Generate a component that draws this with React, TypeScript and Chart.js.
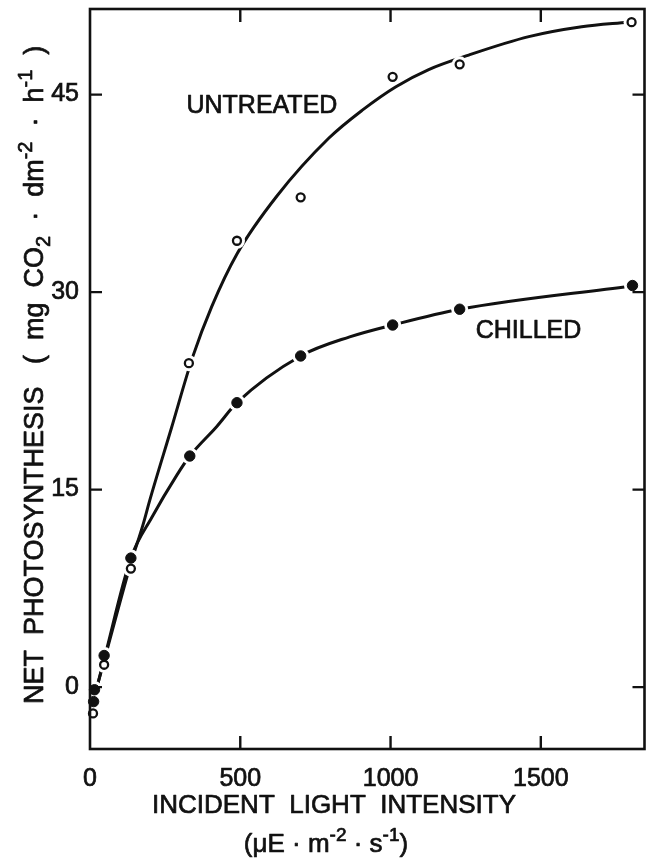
import React, { useEffect, useRef } from "react";
import { Chart, registerables } from "chart.js";

Chart.register(...registerables);

// ---- data ----
const untreatedX = [10, 47, 136, 329, 489, 701, 1007, 1230, 1802];
const untreatedY = [-2.0, 1.7, 9.0, 24.6, 33.9, 37.2, 46.35, 47.3, 50.5];

const chilledX = [12, 15, 47, 136, 332, 489, 701, 1007, 1230, 1805];
const chilledY = [-1.1, -0.2, 2.4, 9.8, 17.55, 21.6, 25.15, 27.5, 28.7, 30.5];

// hand-drawn fitted curves, read along their length from the reference
const untreatedCurveX = [23, 47, 136, 176, 199, 270, 342, 405, 489, 622, 795, 905, 1018, 1127, 1260, 1460, 1636, 1790];
const untreatedCurveY = [0, 2.0, 9.4, 12.3, 14.2, 19.6, 25.1, 28.9, 32.9, 37.3, 41.7, 43.8, 45.6, 46.9, 48.0, 49.4, 50.15, 50.5];

const chilledCurveX = [23, 47, 136, 206, 289, 332, 422, 489, 701, 864, 1007, 1230, 1795];
const chilledCurveY = [0, 2.1, 9.8, 12.9, 16.1, 17.55, 19.8, 21.6, 25.15, 26.6, 27.5, 28.7, 30.45];

const xTicks = [0, 500, 1000, 1500];
const yTicks = [0, 15, 30, 45];

const X_MIN = 0;
const X_MAX = 1845;
const Y_MIN = -4.7;
const Y_MAX = 51.5;

const INK = "#111111";
const FAMILY = "'Liberation Sans', Arial, Helvetica, sans-serif";

type Seg = { t: string; k?: "sup" | "sub" };

const yTitle: Seg[] = [
  { t: "NET  PHOTOSYNTHESIS   (  mg  CO" },
  { t: "2", k: "sub" },
  { t: "  ·  dm" },
  { t: "-2", k: "sup" },
  { t: "  ·  h" },
  { t: "-1", k: "sup" },
  { t: "  )" },
];
const xTitle1: Seg[] = [{ t: "INCIDENT  LIGHT  INTENSITY" }];
const xTitle2: Seg[] = [
  { t: "(μE · m" },
  { t: "-2", k: "sup" },
  { t: " · s" },
  { t: "-1", k: "sup" },
  { t: ")" },
];

const pts = (xs: number[], ys: number[]) => xs.map((x, i) => ({ x, y: ys[i] }));

function segFont(size: number, k?: string) {
  const s = k ? Math.round(size * 0.74) : size;
  return `${s}px ${FAMILY}`;
}

function measureRich(ctx: CanvasRenderingContext2D, segs: Seg[], size: number) {
  let w = 0;
  for (const s of segs) {
    ctx.font = segFont(size, s.k);
    w += ctx.measureText(s.t).width;
  }
  return w;
}

function drawRich(ctx: CanvasRenderingContext2D, segs: Seg[], size: number, x0: number, y0: number) {
  let x = x0;
  ctx.textBaseline = "alphabetic";
  ctx.textAlign = "left";
  for (const s of segs) {
    ctx.font = segFont(size, s.k);
    const dy = s.k === "sup" ? -size * 0.42 : s.k === "sub" ? size * 0.25 : 0;
    ctx.fillText(s.t, x, y0 + dy);
    ctx.strokeText(s.t, x, y0 + dy);
    x += ctx.measureText(s.t).width;
  }
}

const framePlugin = {
  id: "frameAndText",
  afterDatasetsDraw(chart: any) {
    const { ctx, chartArea } = chart;
    const { left, right, top, bottom } = chartArea;
    const xs = chart.scales.x;
    const ys = chart.scales.y;
    ctx.save();
    ctx.strokeStyle = INK;
    ctx.fillStyle = INK;
    ctx.lineWidth = 2.6;
    ctx.strokeRect(left, top, right - left, bottom - top);

    const TICK = 13;
    ctx.lineWidth = 2.4;
    ctx.beginPath();
    for (const v of xTicks) {
      if (v === X_MIN) continue;
      const px = xs.getPixelForValue(v);
      ctx.moveTo(px, bottom);
      ctx.lineTo(px, bottom - TICK);
      ctx.moveTo(px, top);
      ctx.lineTo(px, top + TICK);
    }
    for (const v of yTicks) {
      const py = ys.getPixelForValue(v);
      ctx.moveTo(left, py);
      ctx.lineTo(left + 12, py);
      ctx.moveTo(right, py);
      ctx.lineTo(right - 12, py);
    }
    ctx.stroke();

    ctx.lineWidth = 0.7;
    ctx.lineJoin = "round";

    // series labels
    ctx.font = `25px ${FAMILY}`;
    ctx.textAlign = "center";
    ctx.textBaseline = "middle";
    const ux = xs.getPixelForValue(572);
    const uy = ys.getPixelForValue(44.1);
    ctx.fillText("UNTREATED", ux, uy);
    ctx.strokeText("UNTREATED", ux, uy);
    const cx = xs.getPixelForValue(1459);
    const cy = ys.getPixelForValue(27.05);
    ctx.fillText("CHILLED", cx, cy);
    ctx.strokeText("CHILLED", cx, cy);

    // axis titles
    const TS = 26;
    const w1 = measureRich(ctx, xTitle1, TS);
    drawRich(ctx, xTitle1, TS, 334 - w1 / 2, 813);
    const w2 = measureRich(ctx, xTitle2, TS);
    drawRich(ctx, xTitle2, TS, 326 - w2 / 2, 852);

    ctx.save();
    ctx.translate(43, 704);
    ctx.rotate(-Math.PI / 2);
    drawRich(ctx, yTitle, 27, 0, 0);
    ctx.restore();

    ctx.restore();
  },
};

export default function App() {
  const ref = useRef<HTMLCanvasElement | null>(null);

  useEffect(() => {
    if (!ref.current) return;
    const chart = new Chart(ref.current, {
      type: "scatter",
      data: {
        datasets: [
          {
            label: "Untreated curve",
            data: pts(untreatedCurveX, untreatedCurveY),
            showLine: true,
            borderColor: INK,
            borderWidth: 3,
            pointRadius: 0,
            cubicInterpolationMode: "monotone",
            order: 3,
          } as any,
          {
            label: "Chilled curve",
            data: pts(chilledCurveX, chilledCurveY),
            showLine: true,
            borderColor: INK,
            borderWidth: 3,
            pointRadius: 0,
            cubicInterpolationMode: "monotone",
            order: 3,
          } as any,
          {
            label: "Untreated gap",
            data: pts(untreatedX, untreatedY),
            pointRadius: 8,
            backgroundColor: "#ffffff",
            borderWidth: 0,
            order: 2,
            clip: false,
          } as any,
          {
            label: "Chilled gap",
            data: pts(chilledX, chilledY),
            pointRadius: 8.5,
            backgroundColor: "#ffffff",
            borderWidth: 0,
            order: 2,
            clip: false,
          } as any,
          {
            label: "UNTREATED",
            data: pts(untreatedX, untreatedY),
            pointRadius: 4,
            backgroundColor: "#ffffff",
            borderColor: INK,
            borderWidth: 2.3,
            order: 1,
            clip: false,
          } as any,
          {
            label: "CHILLED",
            data: pts(chilledX, chilledY),
            pointRadius: 5.2,
            backgroundColor: INK,
            borderColor: INK,
            borderWidth: 1,
            order: 0,
            clip: false,
          } as any,
        ],
      },
      options: {
        animation: false,
        responsive: false,
        events: [],
        layout: { padding: { top: 9, right: 6, left: 0, bottom: 0 } },
        plugins: { legend: { display: false }, tooltip: { enabled: false } },
        scales: {
          x: {
            type: "linear",
            min: X_MIN,
            max: X_MAX,
            afterBuildTicks: (s: any) => {
              s.ticks = xTicks.map((v) => ({ value: v }));
            },
            afterFit: (s: any) => {
              s.height = 111;
              s.paddingLeft = 0;
              s.paddingRight = 0;
              s.paddingTop = 0;
              s.paddingBottom = 0;
            },
            grid: { display: false, drawTicks: false },
            border: { display: false },
            ticks: {
              padding: 15,
              color: INK,
              textStrokeColor: INK,
              textStrokeWidth: 0.7,
              font: { family: FAMILY, size: 25 },
              maxRotation: 0,
              autoSkip: false,
              callback: (v: any) => String(v),
            },
          },
          y: {
            type: "linear",
            min: Y_MIN,
            max: Y_MAX,
            afterBuildTicks: (s: any) => {
              s.ticks = yTicks.map((v) => ({ value: v }));
            },
            afterFit: (s: any) => {
              s.width = 90;
              s.paddingLeft = 0;
              s.paddingRight = 0;
              s.paddingTop = 0;
              s.paddingBottom = 0;
            },
            grid: { display: false, drawTicks: false },
            border: { display: false },
            ticks: {
              padding: 11,
              color: INK,
              textStrokeColor: INK,
              textStrokeWidth: 0.7,
              font: { family: FAMILY, size: 25 },
              autoSkip: false,
              callback: (v: any) => String(v),
            },
          },
        },
      },
      plugins: [framePlugin],
    } as any);
    return () => chart.destroy();
  }, []);

  return (
    <div style={{ position: "fixed", left: 0, top: 0, width: 653, height: 860, background: "#ffffff" }}>
      <canvas ref={ref} width={653} height={860} style={{ display: "block" }} />
    </div>
  );
}
